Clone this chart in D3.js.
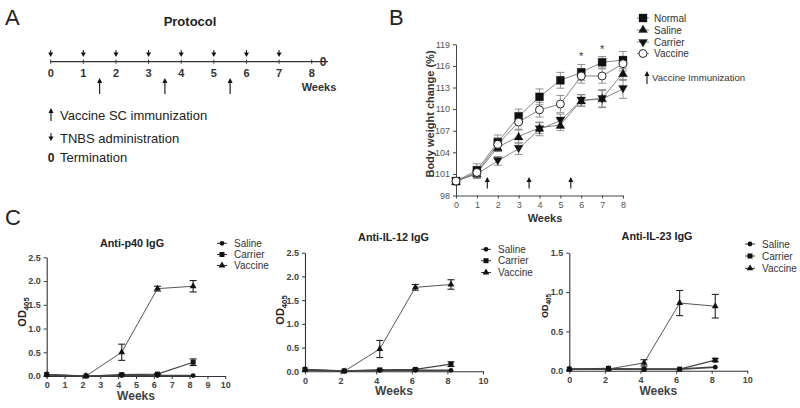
<!DOCTYPE html>
<html><head><meta charset="utf-8">
<script src="https://cdn.jsdelivr.net/npm/d3@7"></script>
<style>
body{margin:0;background:#fff;}
svg{font-family:"Liberation Sans",Arial,sans-serif;}
</style></head>
<body><svg id="c" width="800" height="408"></svg>
<script>
// ---------- Panel A data ----------
const protocolWeeks = [0,1,2,3,4,5,6,7,8];
const tnbsWeeks = [0,1,2,3,4,5,6,7];
const vaccineImmWeeks = [1.5,3.5,5.5];
const terminationWeek = 8.35;
const legendA = ["Vaccine SC immunization","TNBS administration","Termination"];

// ---------- Panel B data ----------
const weeksB = [0,1,2,3,4,5,6,7,8];
const normalB = [100,101.5,105.4,109,111.7,114,115.1,116.5,116.8];
const normalErr = [0.3,0.9,1.0,1.0,1.1,1.1,1.1,0.8,1.2];
const salineB = [100,101.1,104.7,106.2,107.4,107.8,111.2,111.5,115];
const salineErr = [0.3,0.6,0.6,0.9,0.8,0.8,0.8,1.2,1.0];
const carrierB = [100,101.0,102.8,104.5,107.2,108.4,111.2,111.4,112.8];
const carrierErr = [0.3,0.6,0.6,0.8,0.9,0.9,0.8,1.2,1.3];
const vaccineB = [100,101.2,105.1,108.2,109.9,110.7,114.6,114.6,116.3];
const vaccineErr = [0.3,0.8,0.9,1.0,1.0,1.2,1.0,1.0,1.0];
const yTicksB = [98,101,104,107,110,113,116,119];
const starWeeks = [6,7];
const seriesNamesB = ["Normal","Saline","Carrier","Vaccine"];

// ---------- Panel C data ----------
const weeksC = [0,2.2,4.2,6.2,8.2];
const p40Saline = [0.02,0.0,0.01,0.01,0.01];
const p40Carrier = [0.03,0.0,0.03,0.04,0.29];
const p40CarrierErr = [0,0,0.01,0.01,0.07];
const p40Vaccine = [0.03,0.0,0.5,1.84,1.89];
const p40VaccineErr = [0,0,0.17,0.05,0.12];
const il12Saline = [0.03,0.0,0.02,0.02,0.02];
const il12Carrier = [0.04,0.01,0.03,0.04,0.15];
const il12CarrierErr = [0,0,0.01,0.01,0.05];
const il12Vaccine = [0.03,0.0,0.47,1.77,1.83];
const il12VaccineErr = [0,0,0.18,0.06,0.1];
const il23Saline = [0.02,0.02,0.02,0.02,0.045];
const il23Carrier = [0.02,0.03,0.02,0.02,0.135];
const il23CarrierErr = [0,0,0,0,0.02];
const il23Vaccine = [0.02,0.02,0.10,0.86,0.82];
const il23VaccineErr = [0,0,0.04,0.16,0.15];
const seriesNamesC = ["Saline","Carrier","Vaccine"];

const svg = d3.select("#c");
const txt = "#222";

// ================= Panel A =================
svg.append("text").attr("x",5).attr("y",25).attr("font-size",22).attr("fill",txt).text("A");
svg.append("text").attr("x",190).attr("y",26).attr("text-anchor","middle").attr("font-size",13).attr("font-weight","bold").attr("fill",txt).text("Protocol");
const xA = d3.scaleLinear().domain([0,8]).range([50.7,311.7]);
const yLine = 61.7;
const gA = svg.append("g");
gA.append("line").attr("x1",xA(0)).attr("x2",xA(8.5)).attr("y1",yLine).attr("y2",yLine).attr("stroke","#333").attr("stroke-width",1.3);
gA.selectAll(".tk").data(protocolWeeks).join("line").attr("x1",d=>xA(d)).attr("x2",d=>xA(d)).attr("y1",yLine-2).attr("y2",yLine+2).attr("stroke","#333");
gA.selectAll(".tl").data(protocolWeeks).join("text").attr("x",d=>xA(d)).attr("y",77).attr("text-anchor","middle").attr("font-size",11).attr("font-weight","bold").attr("fill","#333").text(d=>d);
gA.append("text").attr("x",xA(terminationWeek)).attr("y",66).attr("text-anchor","middle").attr("font-size",12).attr("font-weight","bold").attr("fill","#333").text("0");
gA.append("text").attr("x",319).attr("y",91).attr("text-anchor","middle").attr("font-size",11).attr("font-weight","bold").attr("fill","#333").text("Weeks");

function downArrow(g,x,y1,y2){
  g.append("line").attr("x1",x).attr("x2",x).attr("y1",y1).attr("y2",y2-3).attr("stroke","#111").attr("stroke-width",1);
  g.append("path").attr("d",`M${x-2.5},${y2-4.5}L${x+2.5},${y2-4.5}L${x},${y2}Z`).attr("fill","#111");
}
function upArrow(g,x,y1,y2){ // y1 bottom, y2 top
  g.append("line").attr("x1",x).attr("x2",x).attr("y1",y1).attr("y2",y2+3).attr("stroke","#111").attr("stroke-width",1.1);
  g.append("path").attr("d",`M${x-2.5},${y2+5}L${x+2.5},${y2+5}L${x},${y2}Z`).attr("fill","#111");
}
tnbsWeeks.forEach(w=>downArrow(gA,xA(w),50,57));
vaccineImmWeeks.forEach(w=>upArrow(gA,xA(w),94,78));
upArrow(gA,51,121,108);
svg.append("text").attr("x",60).attr("y",119.5).attr("font-size",13).attr("fill",txt).text(legendA[0]);
downArrow(gA,51,133,141);
svg.append("text").attr("x",60).attr("y",142.5).attr("font-size",13).attr("fill",txt).text(legendA[1]);
svg.append("text").attr("x",51).attr("y",161.5).attr("text-anchor","middle").attr("font-size",12).attr("font-weight","bold").attr("fill",txt).text("0");
svg.append("text").attr("x",60).attr("y",161.5).attr("font-size",13).attr("fill",txt).text(legendA[2]);

// ================= Panel B =================
svg.append("text").attr("x",389).attr("y",25).attr("font-size",22).attr("fill",txt).text("B");
const xB = d3.scaleLinear().domain([0,8]).range([456,623]);
const yB = d3.scaleLinear().domain([98,119]).range([195.5,44.3]);
const gB = svg.append("g");
gB.append("g").attr("transform","translate(0,195.5)")
  .call(d3.axisBottom(xB).tickValues(weeksB).tickSize(3).tickSizeOuter(0))
  .call(g=>{g.select(".domain").attr("stroke","#444");g.selectAll("line").attr("stroke","#444");g.selectAll("text").attr("font-size",9).attr("fill","#555").attr("font-family","Liberation Sans");});
gB.append("g").attr("transform","translate(456,0)")
  .call(d3.axisLeft(yB).tickValues(yTicksB).tickSize(3).tickSizeOuter(0))
  .call(g=>{g.select(".domain").attr("stroke","#444");g.selectAll("line").attr("stroke","#444");g.selectAll("text").attr("font-size",9).attr("fill","#555").attr("font-family","Liberation Sans");});
gB.append("text").attr("x",545).attr("y",222).attr("text-anchor","middle").attr("font-size",11).attr("font-weight","bold").attr("fill","#333").text("Weeks");
gB.append("text").attr("transform","translate(434,114) rotate(-90)").attr("text-anchor","middle").attr("font-size",11).attr("font-weight","bold").attr("fill","#333").text("Body weight change (%)");

const sB = [
  {name:seriesNamesB[0],v:normalB,e:normalErr,sym:d3.symbolSquare,size:64,rot:0,fill:"#111"},
  {name:seriesNamesB[1],v:salineB,e:salineErr,sym:d3.symbolTriangle,size:34,rot:0,fill:"#111"},
  {name:seriesNamesB[2],v:carrierB,e:carrierErr,sym:d3.symbolTriangle,size:34,rot:180,fill:"#111"},
  {name:seriesNamesB[3],v:vaccineB,e:vaccineErr,sym:d3.symbolCircle,size:50,rot:0,fill:"#fff"}
];
const lineB = d3.line().x((d,i)=>xB(weeksB[i])).y(d=>yB(d));
sB.forEach(s=>{
  gB.append("path").attr("d",lineB(s.v)).attr("fill","none").attr("stroke","#777").attr("stroke-width",0.9);
});
sB.forEach(s=>{
  s.v.forEach((v,i)=>{
    const x=xB(weeksB[i]);
    gB.append("line").attr("x1",x).attr("x2",x).attr("y1",yB(v-s.e[i])).attr("y2",yB(v+s.e[i])).attr("stroke","#777").attr("stroke-width",0.8);
    [v-s.e[i],v+s.e[i]].forEach(c=>gB.append("line").attr("x1",x-4).attr("x2",x+4).attr("y1",yB(c)).attr("y2",yB(c)).attr("stroke","#777").attr("stroke-width",0.8));
  });
});
sB.forEach(s=>{
  gB.selectAll(null).data(s.v).join("path")
    .attr("d",d3.symbol().type(s.sym).size(s.size))
    .attr("transform",(d,i)=>`translate(${xB(weeksB[i])},${yB(d)+(s.sym===d3.symbolTriangle?(s.rot?-1:1):0)}) rotate(${s.rot})`)
    .attr("fill",s.fill).attr("stroke","#111").attr("stroke-width",s.fill==="#fff"?0.9:0.3);
});
starWeeks.forEach(w=>{
  const i=weeksB.indexOf(w);
  gB.append("text").attr("x",xB(w)).attr("y",yB(normalB[i]+normalErr[i])-4).attr("text-anchor","middle").attr("font-size",11).attr("fill","#333").text("*");
});
vaccineImmWeeks.forEach(w=>upArrow(gB,xB(w),188.5,177));
// legend B
const legBy = [18,30,42,53.5];
sB.forEach((s,i)=>{
  gB.append("line").attr("x1",637).attr("x2",649).attr("y1",legBy[i]).attr("y2",legBy[i]).attr("stroke","#777").attr("stroke-width",0.9);
  gB.append("path").attr("d",d3.symbol().type(s.sym).size(s.size)).attr("transform",`translate(643,${legBy[i]}) rotate(${s.rot})`).attr("fill",s.fill).attr("stroke","#111").attr("stroke-width",s.fill==="#fff"?0.9:0.3);
  gB.append("text").attr("x",654).attr("y",legBy[i]+3.5).attr("font-size",10).attr("fill","#333").text(s.name);
});
upArrow(gB,647,84,71);
gB.append("text").attr("x",652).attr("y",81).attr("font-size",9.6).attr("fill","#333").text("Vaccine Immunization");

// ================= Panel C =================
svg.append("text").attr("x",5).attr("y",225).attr("font-size",22).attr("fill",txt).text("C");
function panelC(cfg){
  const g = svg.append("g");
  const x = d3.scaleLinear().domain([0,10]).range([cfg.x0,cfg.x1]);
  const y = d3.scaleLinear().domain([0,cfg.ymax]).range([cfg.y0,cfg.y1]);
  g.append("g").attr("transform",`translate(0,${cfg.y0})`)
    .call(d3.axisBottom(x).tickValues(cfg.xt).tickSize(3).tickSizeOuter(0))
    .call(a=>{a.select(".domain").attr("stroke","#333").attr("stroke-width",1.1);a.selectAll("line").attr("stroke","#333");a.selectAll("text").attr("font-size",9).attr("font-weight","bold").attr("fill","#444").attr("font-family","Liberation Sans");});
  g.append("g").attr("transform",`translate(${cfg.x0},0)`)
    .call(d3.axisLeft(y).tickValues(cfg.yt).tickFormat(d3.format(".1f")).tickSize(3).tickSizeOuter(0))
    .call(a=>{a.select(".domain").attr("stroke","#333").attr("stroke-width",1.1);a.selectAll("line").attr("stroke","#333");a.selectAll("text").attr("font-size",9).attr("font-weight","bold").attr("fill","#444").attr("font-family","Liberation Sans");});
  g.append("text").attr("x",cfg.tx).attr("y",cfg.ty).attr("text-anchor","middle").attr("font-size",10.8).attr("font-weight","bold").attr("fill","#222").text(cfg.title);
  g.append("text").attr("x",(cfg.x0+cfg.x1)/2).attr("y",cfg.y0+24).attr("text-anchor","middle").attr("font-size",12).attr("font-weight","bold").attr("fill","#444").text("Weeks");
  const yt = g.append("text").attr("transform",`translate(${cfg.yx},${cfg.yy}) rotate(-90)`).attr("text-anchor","middle").attr("font-size",cfg.yfs).attr("font-weight","bold").attr("fill","#222");
  yt.append("tspan").text("OD");
  yt.append("tspan").attr("font-size",cfg.yfs*0.7).attr("dy",3).text("405");
  const ser = [
    {v:cfg.saline,e:null,sym:d3.symbolCircle,size:18,w:1.6},
    {v:cfg.carrier,e:cfg.carrierErr,sym:d3.symbolSquare,size:25,w:1.2},
    {v:cfg.vaccine,e:cfg.vaccineErr,sym:d3.symbolTriangle,size:20,w:0.9}
  ];
  const ln = d3.line().x((d,i)=>x(weeksC[i])).y(d=>y(d));
  ser.forEach(s=>g.append("path").attr("d",ln(s.v)).attr("fill","none").attr("stroke","#444").attr("stroke-width",s.w));
  ser.forEach(s=>{
    if(!s.e) return;
    s.v.forEach((v,i)=>{
      if(!s.e[i]) return;
      const xx=x(weeksC[i]);
      g.append("line").attr("x1",xx).attr("x2",xx).attr("y1",y(v-s.e[i])).attr("y2",y(v+s.e[i])).attr("stroke","#222").attr("stroke-width",1.1);
      [v-s.e[i],v+s.e[i]].forEach(c=>g.append("line").attr("x1",xx-3.5).attr("x2",xx+3.5).attr("y1",y(c)).attr("y2",y(c)).attr("stroke","#222").attr("stroke-width",1.1));
    });
  });
  ser.forEach(s=>{
    g.selectAll(null).data(s.v).join("path").attr("d",d3.symbol().type(s.sym).size(s.size))
      .attr("transform",(d,i)=>`translate(${x(weeksC[i])},${y(d)})`).attr("fill","#111");
  });
  ser.forEach((s,i)=>{
    const ly = cfg.ly[i];
    g.append("line").attr("x1",cfg.lx-5).attr("x2",cfg.lx+5).attr("y1",ly).attr("y2",ly).attr("stroke","#333").attr("stroke-width",1);
    g.append("path").attr("d",d3.symbol().type(s.sym).size(s.size)).attr("transform",`translate(${cfg.lx},${ly})`).attr("fill","#111");
    g.append("text").attr("x",cfg.lx+12).attr("y",ly+3.5).attr("font-size",10).attr("fill","#333").text(seriesNamesC[i]);
  });
}
panelC({x0:46.7,x1:225.3,y0:376,y1:257.3,ymax:2.5,xt:[0,1,2,3,4,5,6,7,8,9,10],yt:[0,0.5,1,1.5,2,2.5],
  title:"Anti-p40 IgG",tx:132,ty:246.5,yx:26,yy:312,yfs:11,
  saline:p40Saline,carrier:p40Carrier,carrierErr:p40CarrierErr,vaccine:p40Vaccine,vaccineErr:p40VaccineErr,
  lx:222,ly:[243.3,254.5,265.5]});
panelC({x0:305,x1:483,y0:371.3,y1:252.7,ymax:2.5,xt:[0,2,4,6,8,10],yt:[0,0.5,1,1.5,2,2.5],
  title:"Anti-IL-12 IgG",tx:393.5,ty:240.5,yx:284,yy:310,yfs:11,
  saline:il12Saline,carrier:il12Carrier,carrierErr:il12CarrierErr,vaccine:il12Vaccine,vaccineErr:il12VaccineErr,
  lx:486,ly:[249.3,260.7,272.5]});
panelC({x0:569.3,x1:747.3,y0:370.7,y1:252.7,ymax:1.5,xt:[0,2,4,6,8,10],yt:[0,0.5,1,1.5],
  title:"Anti-IL-23 IgG",tx:657,ty:239.5,yx:548,yy:306,yfs:9,
  saline:il23Saline,carrier:il23Carrier,carrierErr:il23CarrierErr,vaccine:il23Vaccine,vaccineErr:il23VaccineErr,
  lx:750,ly:[244,256,268.3]});
</script></body></html>
